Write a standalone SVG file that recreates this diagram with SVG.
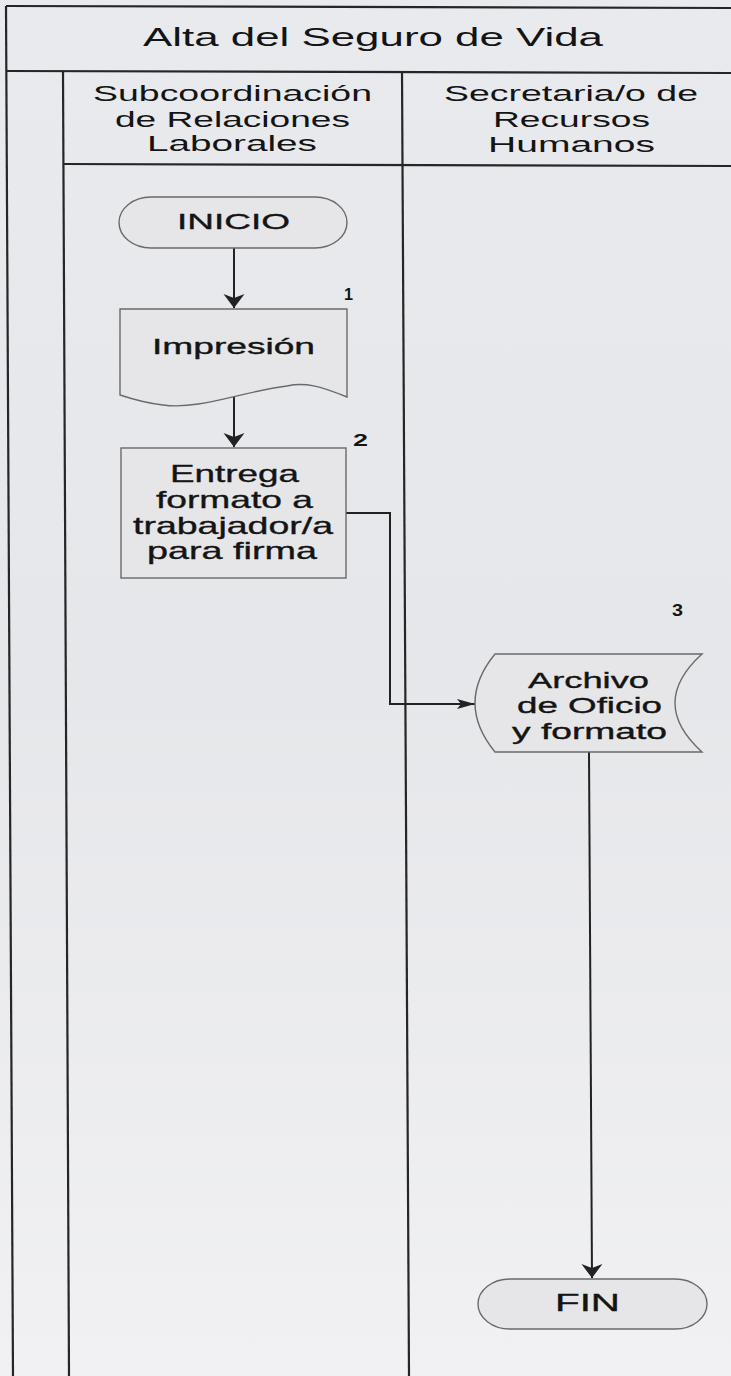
<svg xmlns="http://www.w3.org/2000/svg" width="731" height="1376" viewBox="0 0 731 1376">
<defs>
<linearGradient id="paper" x1="0" y1="0" x2="0" y2="1">
<stop offset="0" stop-color="#e8eaee"/>
<stop offset="0.5" stop-color="#e6e7ea"/>
<stop offset="1" stop-color="#f1f1f3"/>
</linearGradient>
<marker id="arrowV" markerUnits="userSpaceOnUse" markerWidth="20" markerHeight="24" viewBox="-15 -12 17 24" refX="0" refY="0" orient="auto">
<path d="M0,0 L-14,-10.5 L-10,0 L-14,10.5 Z" fill="#222"/>
</marker>
<marker id="arrowH" markerUnits="userSpaceOnUse" markerWidth="22" markerHeight="14" viewBox="-20 -7 22 14" refX="0" refY="0" orient="auto">
<path d="M0,0 L-18,-5 L-14,0 L-18,5 Z" fill="#222"/>
</marker>
<style>
.lane{stroke:#262626;stroke-width:2.2;fill:none}
.node{fill:#e6e6e8;stroke:#6a6a6a;stroke-width:1.4}
.t{font-family:"Liberation Sans",Arial,sans-serif;fill:#141414}
.h{font-size:22px}
.n{font-size:22px;stroke:#141414;stroke-width:0.35}
.n24{font-size:24px;stroke:#141414;stroke-width:0.35}
.num{font-size:17px;font-weight:bold}
.conn{stroke:#222;stroke-width:2;fill:none}
</style>
</defs>
<rect x="0" y="0" width="731" height="1376" fill="url(#paper)"/>
<g id="swimlanes">
<line class="lane" x1="6" y1="6" x2="731" y2="8"/>
<line class="lane" x1="6" y1="71" x2="731" y2="73"/>
<line class="lane" x1="63" y1="164" x2="731" y2="166"/>
<line class="lane" x1="6" y1="6" x2="13" y2="1376"/>
<line class="lane" x1="63" y1="71" x2="69" y2="1376"/>
<line class="lane" x1="402" y1="71" x2="409" y2="1376"/>
<text class="t" x="143" y="46" font-size="25" textLength="460" lengthAdjust="spacingAndGlyphs">Alta del Seguro de Vida</text>
<g id="lane-relaciones">
<text class="t h" x="93" y="101" textLength="279" lengthAdjust="spacingAndGlyphs">Subcoordinación</text>
<text class="t h" x="115" y="127" textLength="235" lengthAdjust="spacingAndGlyphs">de Relaciones</text>
<text class="t h" x="147" y="151" textLength="170" lengthAdjust="spacingAndGlyphs">Laborales</text>
</g>
<g id="lane-rh">
<text class="t h" x="444" y="101" textLength="254" lengthAdjust="spacingAndGlyphs">Secretaria/o de</text>
<text class="t h" x="493" y="127" textLength="157" lengthAdjust="spacingAndGlyphs">Recursos</text>
<text class="t h" x="488" y="152" textLength="167" lengthAdjust="spacingAndGlyphs">Humanos</text>
</g>
</g>
<g id="connectors">
<line class="conn" x1="234" y1="248" x2="234" y2="308" marker-end="url(#arrowV)"/>
<line class="conn" x1="234" y1="396" x2="234" y2="447" marker-end="url(#arrowV)"/>
<polyline class="conn" points="346,513 390,513 390,704 475,704" marker-end="url(#arrowH)"/>
<line class="conn" x1="589" y1="752" x2="592" y2="1278" marker-end="url(#arrowV)"/>
</g>
<g id="inicio">
<rect class="node" x="119" y="197" width="228" height="51" rx="32" ry="25.5"/>
<text class="t n" x="177" y="229" textLength="113" lengthAdjust="spacingAndGlyphs">INICIO</text>
</g>
<g id="impresion">
<path class="node" d="M120,309 H347 V397 C320,386 305,382 287,386 C240,392 200,410 163,405 C145,403 132,399 120,395 Z"/>
<text class="t n" x="152" y="354" font-size="20" textLength="163" lengthAdjust="spacingAndGlyphs">Impresión</text>
<text class="t num" x="344" y="300" textLength="9" lengthAdjust="spacingAndGlyphs">1</text>
</g>
<g id="entrega">
<rect class="node" x="121" y="448" width="225" height="130"/>
<text class="t n24" x="170" y="482" textLength="129" lengthAdjust="spacingAndGlyphs">Entrega</text>
<text class="t n24" x="156" y="508" textLength="157" lengthAdjust="spacingAndGlyphs">formato a</text>
<text class="t n24" x="133" y="534" textLength="200" lengthAdjust="spacingAndGlyphs">trabajador/a</text>
<text class="t n24" x="147" y="559" textLength="170" lengthAdjust="spacingAndGlyphs">para firma</text>
<text class="t num" x="353" y="446" textLength="15" lengthAdjust="spacingAndGlyphs">2</text>
</g>
<g id="archivo">
<path class="node" d="M495,654 H702 Q648,703 702,752 H495 Q455,703 495,654 Z"/>
<text class="t n" x="528" y="688" font-size="23" textLength="121" lengthAdjust="spacingAndGlyphs">Archivo</text>
<text class="t n" x="517" y="713" font-size="23" textLength="145" lengthAdjust="spacingAndGlyphs">de Oficio</text>
<text class="t n" x="512" y="739" font-size="23" textLength="155" lengthAdjust="spacingAndGlyphs">y formato</text>
<text class="t num" x="672" y="616" font-size="16" textLength="11" lengthAdjust="spacingAndGlyphs">3</text>
</g>
<g id="fin">
<rect class="node" x="478" y="1279" width="229" height="50" rx="32" ry="25"/>
<text class="t n24" x="555" y="1311" textLength="65" lengthAdjust="spacingAndGlyphs">FIN</text>
</g>
</svg>
